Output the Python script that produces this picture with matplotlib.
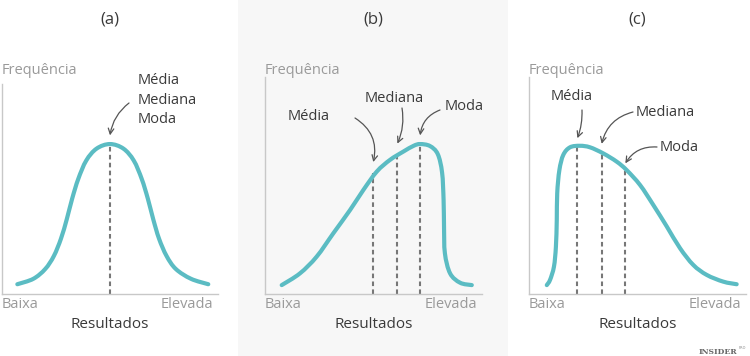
import matplotlib
matplotlib.use('Agg')
import matplotlib.pyplot as plt
from matplotlib.patches import Rectangle, PathPatch
from matplotlib.path import Path

plt.rcParams['font.family'] = ['Open Sans', 'DejaVu Sans']

# dados (x: Resultados 0-100, y: Frequência 0-100)
titulos = ['(a)', '(b)', '(c)']

a_x = [7.1, 14.5, 20.0, 24.0, 27.3, 30.0, 32.5, 35.3, 39.0, 43.8, 50.0,
       56.2, 61.0, 64.7, 67.5, 70.0, 72.7, 76.2, 80.5, 87.5, 95.5]
a_y = [4.5, 7.0, 11.5, 17.5, 25.5, 34.5, 44.0, 53.0, 61.5, 67.0, 69.1,
       67.0, 61.5, 53.0, 44.0, 34.5, 25.5, 17.5, 11.5, 7.0, 4.5]

b_x = [7.7, 16.1, 23.8, 31.5, 39.2, 45.3, 51.5, 57.6, 63.7, 68.5, 71.5,
       76.0, 79.6, 81.6, 82.3, 82.5, 82.9, 85.3, 89.9, 95.3]
b_y = [4.1, 9.5, 17.2, 28.0, 38.7, 47.9, 56.4, 61.8, 65.6, 68.3, 69.1,
       68.2, 64.5, 56.0, 43.3, 31.0, 18.8, 9.5, 5.2, 4.1]

c_x = [8.2, 9.7, 11.5, 12.4, 12.8, 13.0, 14.0, 15.8, 18.9, 23.5, 28.1,
       34.2, 40.4, 45.0, 51.2, 57.3, 63.5, 69.6, 75.7, 81.9, 89.5, 95.7]
c_y = [4.1, 6.5, 12.6, 21.8, 34.1, 46.4, 57.1, 64.1, 67.6, 68.3, 67.6,
       64.8, 61.0, 57.1, 50.2, 41.0, 31.1, 21.1, 13.4, 8.8, 5.7, 4.5]

# média / mediana / moda (posição e altura da curva)
a_med_x = [50.0]
a_med_y = [69.1]
b_med_x = [49.9, 61.0, 71.5]
b_med_y = [55.8, 63.3, 69.1]
c_med_x = [22.3, 33.5, 44.4]
c_med_y = [68.3, 65.2, 57.6]

cor_curva = '#5bbcc3'
cor_eixo = '#c8c8c8'
cor_cinza = '#9a9a9a'
cor_texto = '#3a3a3a'
cor_seta = '#555555'
cor_trac = '#777777'

W, H = 750, 356


def caminho_suave(xs, ys):
    # curva de Bezier que passa pelos pontos lidos (Catmull-Rom)
    pts = list(zip(xs, ys))
    verts = [pts[0]]
    codes = [Path.MOVETO]
    n = len(pts)
    for i in range(n - 1):
        p0 = pts[max(i - 1, 0)]
        p1 = pts[i]
        p2 = pts[i + 1]
        p3 = pts[min(i + 2, n - 1)]
        c1 = (p1[0] + (p2[0] - p0[0]) / 6, p1[1] + (p2[1] - p0[1]) / 6)
        c2 = (p2[0] - (p3[0] - p1[0]) / 6, p2[1] - (p3[1] - p1[1]) / 6)
        verts += [c1, c2, p2]
        codes += [Path.CURVE4] * 3
    return Path(verts, codes)


fig = plt.figure(figsize=(7.5, 3.56), dpi=100)
fig.patch.set_facecolor('white')

# fundo cinzento do painel (b)
fig.add_artist(Rectangle((238 / W, 0), 270 / W, 1, transform=fig.transFigure,
                         facecolor='#f7f7f7', edgecolor='none', zorder=0))

# posição dos eixos em pixels (esquerda, direita)
paineis = [(2, 218), (265, 482), (529, 746)]
curvas = [(a_x, a_y), (b_x, b_y), (c_x, c_y)]
medidas = [(a_med_x, a_med_y), (b_med_x, b_med_y), (c_med_x, c_med_y)]
baixo, topo = 294, 77

eixos = []
for i, (L, R) in enumerate(paineis):
    ax = fig.add_axes([L / W, (H - baixo) / H, (R - L) / W, (baixo - topo) / H])
    ax.set_xlim(0, 100)
    ax.set_ylim(0, 100)
    ax.patch.set_alpha(0)
    for s in ['top', 'right']:
        ax.spines[s].set_visible(False)
    for s in ['left', 'bottom']:
        ax.spines[s].set_color(cor_eixo)
        ax.spines[s].set_linewidth(1.0)
    if i == 0:
        ax.spines['left'].set_bounds(0, 97)
    ax.set_xticks([])
    ax.set_yticks([])

    cx, cy = curvas[i]
    ax.add_patch(PathPatch(caminho_suave(cx, cy), facecolor='none',
                           edgecolor=cor_curva, lw=3, capstyle='round',
                           joinstyle='round', zorder=3))
    mx, my = medidas[i]
    ax.vlines(mx, 0, my, colors=cor_trac, lw=1.5, linestyles=(0, (2.2, 1.6)), zorder=2)

    meio = (L + R) / 2
    fig.text(meio / W, 1 - 20 / H, titulos[i], ha='center', va='center',
             fontsize=12, color=cor_texto)
    fig.text(L / W, 1 - 71 / H, 'Frequência', ha='left', va='center',
             fontsize=10.5, color=cor_cinza)
    fig.text(L / W, 1 - 305 / H, 'Baixa', ha='left', va='center',
             fontsize=10.5, color=cor_cinza)
    fig.text((R - 4.5) / W, 1 - 305 / H, 'Elevada', ha='right', va='center',
             fontsize=10.5, color=cor_cinza)
    fig.text(meio / W, 1 - 325 / H, 'Resultados', ha='center', va='center',
             fontsize=11, color=cor_texto)
    eixos.append(ax)


def rotulo(txt, x, y):
    fig.text(x / W, 1 - y / H, txt, ha='left', va='center', fontsize=10.5,
             color=cor_texto)


def seta(ax, ponta, origem, rad):
    ax.annotate('', xy=ponta, xycoords='data',
                xytext=(origem[0], H - origem[1]), textcoords='figure pixels',
                arrowprops=dict(arrowstyle='->,head_length=0.4,head_width=0.2',
                                color=cor_seta, lw=0.9,
                                connectionstyle=f'arc3,rad={rad}',
                                shrinkA=0, shrinkB=0))


# (a)
rotulo('Média', 138, 81)
rotulo('Mediana', 138, 100)
rotulo('Moda', 138, 120)
seta(eixos[0], (a_med_x[0], a_med_y[0] + 4), (129, 103), 0.2)

# (b)
rotulo('Média', 288, 117)
rotulo('Mediana', 365, 98)
rotulo('Moda', 445, 107)
seta(eixos[1], (b_med_x[0], b_med_y[0] + 5), (355, 118), -0.35)
seta(eixos[1], (b_med_x[1], b_med_y[1] + 6), (402, 108), -0.15)
seta(eixos[1], (b_med_x[2], b_med_y[2] + 4), (440, 110), 0.3)

# (c)
rotulo('Média', 551, 97)
rotulo('Mediana', 636, 113)
rotulo('Moda', 660, 147)
seta(eixos[2], (c_med_x[0], c_med_y[0] + 3.5), (582, 110), -0.1)
seta(eixos[2], (c_med_x[1], c_med_y[1] + 4), (633, 112), 0.3)
seta(eixos[2], (c_med_x[2], c_med_y[2] + 2.6), (657, 147), 0.3)

# marca de água
fig.text(699 / W, 1 - 352 / H, 'INSIDER', ha='left', va='center',
         fontsize=5.5, fontweight='bold', family='DejaVu Serif', color='#666666')
fig.text(739 / W, 1 - 348 / H, 'PRO', ha='left', va='center',
         fontsize=2.5, family='DejaVu Sans', color='#888888')

fig.savefig('out.png', dpi=100)
